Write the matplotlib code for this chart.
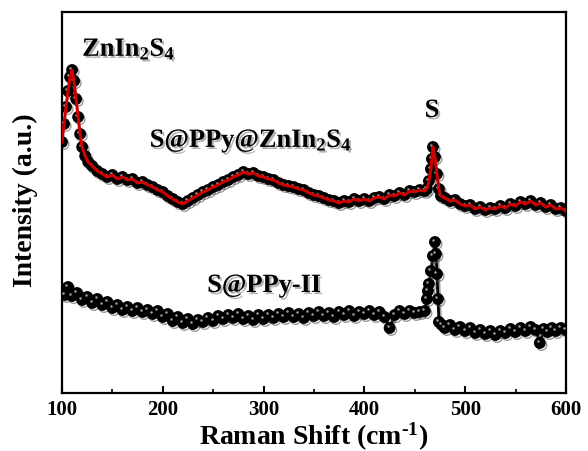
import matplotlib
matplotlib.use("Agg")
import matplotlib.pyplot as plt
import matplotlib.patheffects as pe
from matplotlib.transforms import offset_copy
from matplotlib.ticker import MultipleLocator

plt.rcParams['font.family'] = ['Liberation Serif', 'DejaVu Serif']
plt.rcParams['font.weight'] = 'bold'
plt.rcParams['mathtext.fontset'] = 'custom'
plt.rcParams['mathtext.rm'] = 'Liberation Serif:bold'
plt.rcParams['mathtext.bf'] = 'Liberation Serif:bold'
plt.rcParams['mathtext.it'] = 'Liberation Serif:bold'

# S@PPy@ZnIn2S4 (upper curve), intensity in arbitrary units
top_x = [100, 102, 104, 106, 108, 110, 112, 114, 116, 118, 120, 123, 126, 130, 135, 140, 145, 150, 155, 160,
         165, 170, 175, 180, 185, 190, 195, 200, 205, 210, 215, 220, 225, 230, 235, 240, 245, 250, 255, 260,
         265, 270, 275, 280, 285, 290, 295, 300, 305, 310, 315, 320, 325, 330, 335, 340, 345, 350, 355, 360,
         365, 370, 375, 380, 385, 390, 395, 400, 405, 410, 415, 420, 425, 430, 435, 440, 445, 450, 455, 460,
         462, 464, 466, 467, 468, 470, 472, 474, 476, 480, 485, 490, 495, 500, 505, 510, 515, 520, 525, 530,
         535, 540, 545, 550, 555, 560, 565, 570, 575, 580, 585, 590, 595, 600]
top_y = [257, 275, 292, 308, 322, 329, 318, 300, 282, 265, 252, 243, 237, 233, 228, 225, 222, 224, 220, 222,
         219, 220, 216, 217, 214, 212, 209, 207, 203, 200, 197, 195, 198, 201, 204, 207, 209, 212, 214, 217,
         219, 222, 224, 227, 225, 226, 223, 222, 220, 219, 216, 214, 213, 212, 210, 209, 206, 204, 203, 201,
         199, 198, 196, 198, 197, 200, 198, 200, 198, 201, 202, 200, 204, 203, 206, 204, 208, 207, 209, 208,
         210, 218, 230, 240, 252, 242, 225, 210, 203, 201, 198, 199, 195, 193, 194, 190, 192, 189, 191, 190,
         193, 191, 195, 193, 197, 195, 198, 194, 196, 192, 194, 190, 191, 188]

# S@PPy-II (lower curve)
bot_x = [100, 103, 106, 110, 115, 120, 125, 130, 135, 140, 145, 150, 155, 160, 165, 170, 175, 180, 185, 190,
         195, 200, 205, 210, 215, 220, 225, 230, 235, 240, 245, 250, 255, 260, 265, 270, 275, 280, 285, 290,
         295, 300, 305, 310, 315, 320, 325, 330, 335, 340, 345, 350, 355, 360, 365, 370, 375, 380, 385, 390,
         395, 400, 405, 410, 415, 420, 425, 430, 435, 440, 445, 450, 455, 460, 462, 463, 464, 466, 468, 470,
         471, 472, 473, 474, 477, 480, 485, 490, 495, 500, 505, 510, 515, 520, 525, 530, 535, 540, 545, 550,
         555, 560, 565, 570, 574, 578, 582, 586, 590, 595, 600]
bot_y = [110, 104, 112, 103, 106, 99, 102, 96, 100, 94, 97, 91, 94, 89, 92, 88, 91, 87, 89, 85,
         88, 82, 85, 78, 82, 76, 80, 75, 79, 77, 81, 78, 83, 80, 84, 81, 85, 80, 83, 79,
         84, 80, 84, 81, 85, 82, 86, 82, 85, 81, 86, 83, 87, 83, 86, 82, 87, 84, 88, 83,
         87, 85, 88, 84, 87, 82, 71, 84, 88, 85, 88, 86, 87, 88, 100, 108, 115, 128, 143, 157,
         145, 125, 100, 77, 74, 71, 74, 69, 72, 68, 71, 66, 69, 65, 68, 64, 68, 66, 70, 67,
         71, 68, 72, 69, 56, 70, 67, 71, 68, 71, 69]

xticks = [100, 200, 300, 400, 500, 600]

fig = plt.figure(figsize=(5.88, 4.52), dpi=100)
ax = fig.add_axes([62 / 588, 1 - 394 / 452, 504 / 588, 381 / 452])

shadow = [pe.SimpleLineShadow(offset=(1.2, -1.5), shadow_color='#555555', alpha=0.6), pe.Normal()]
hl = offset_copy(ax.transData, fig=fig, x=-1.2, y=1.2, units='points')

MS = 7.5
# lower curve
ax.plot(bot_x, bot_y, color='black', lw=2.0, marker='o', ms=MS, mfc='black', mec='black',
        path_effects=shadow, zorder=2)
ax.plot(bot_x, bot_y, ls='none', marker='o', ms=1.8, mfc='#a0a0a0', mec='none', transform=hl, zorder=3)

# upper curve
ax.plot(top_x, top_y, ls='none', marker='o', ms=MS, mfc='black', mec='black', path_effects=shadow, zorder=2)
ax.plot(top_x, top_y, ls='none', marker='o', ms=1.8, mfc='#a0a0a0', mec='none', transform=hl, zorder=3)
ax.plot(top_x, top_y, color='#cc0000', lw=2.2, zorder=4)

ax.set_xlim(100, 600)
ax.set_ylim(6, 387)
ax.set_xticks(xticks)
ax.set_xticklabels([str(t) for t in xticks])
ax.xaxis.set_minor_locator(MultipleLocator(50))
ax.set_yticks([])
ax.tick_params(axis='x', which='both', direction='in', top=False, labelsize=15, pad=4)
ax.tick_params(axis='x', which='major', length=5, width=1.5)
ax.tick_params(axis='x', which='minor', length=3, width=1.2)
for lab in ax.get_xticklabels():
    lab.set_fontweight('bold')
for s in ax.spines.values():
    s.set_linewidth(1.6)

tshadow = [pe.withSimplePatchShadow(offset=(1.5, -1.5), shadow_rgbFace='gray', alpha=0.6)]
ax.text(120, 343, r'ZnIn$_\mathbf{2}$S$_\mathbf{4}$', fontsize=19, fontweight='bold', ha='left',
        va='baseline', path_effects=tshadow)
ax.text(187, 252, r'S@PPy@ZnIn$_\mathbf{2}$S$_\mathbf{4}$', fontsize=19, fontweight='bold', ha='left',
        va='baseline', path_effects=tshadow)
ax.text(467, 282, 'S', fontsize=19, fontweight='bold', ha='center', va='baseline', path_effects=tshadow)
ax.text(244, 107, 'S@PPy-II', fontsize=19, fontweight='bold', ha='left', va='baseline', path_effects=tshadow)

ax.set_xlabel('Raman Shift (cm$^{\u20101}$)', fontsize=20, fontweight='bold', labelpad=1)
fig.text(25 / 588, 1 - 200 / 452, 'Intensity (a.u.)', fontsize=20, fontweight='bold', rotation=90,
         ha='center', va='center')

fig.savefig('out.png', dpi=100)
